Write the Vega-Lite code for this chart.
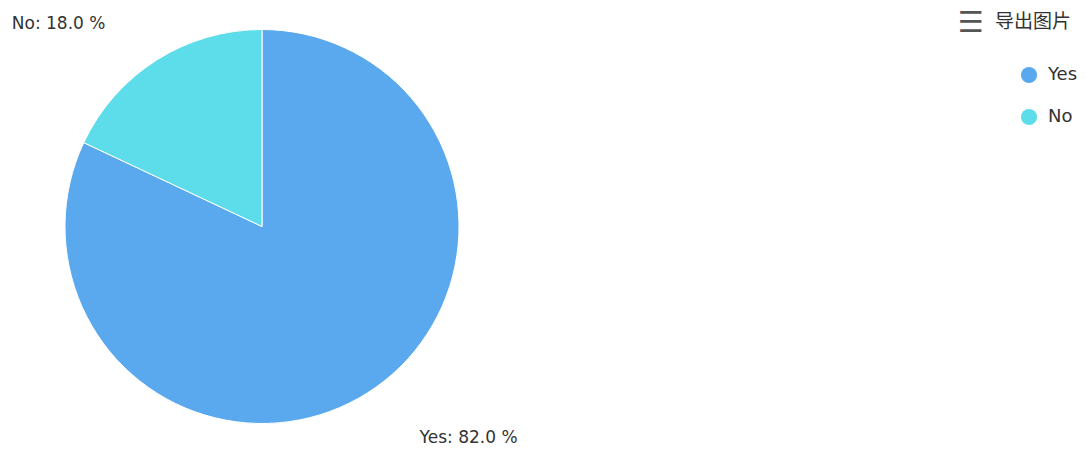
{
  "$schema": "https://vega.github.io/schema/vega-lite/v6.json",
  "width": 524,
  "height": 453,
  "padding": {"left": 0, "top": 0, "bottom": 0, "right": 561},
  "autosize": {"type": "none"},
  "background": "white",
  "view": {"stroke": null},
  "title": {
    "text": "☰",
    "anchor": "end",
    "orient": "top",
    "frame": "group",
    "dx": 460,
    "dy": 42,
    "font": "DejaVu Sans",
    "fontSize": 29,
    "fontWeight": "bold",
    "color": "#555555"
  },
  "data": {
    "values": [
      {"answer": "Yes", "pct": 82, "rank": 1, "label": "Yes: 82.0 %"},
      {"answer": "No", "pct": 18, "rank": 2, "label": "No: 18.0 %"}
    ]
  },
  "encoding": {
    "theta": {"field": "pct", "type": "quantitative", "stack": true},
    "order": {"field": "rank", "type": "quantitative"}
  },
  "layer": [
    {
      "mark": {"type": "arc", "outerRadius": 197, "stroke": "white", "strokeWidth": 1},
      "encoding": {
        "color": {
          "field": "answer",
          "type": "nominal",
          "scale": {"domain": ["Yes", "No"], "range": ["#5aa9ee", "#5ddcea"]},
          "legend": {
            "orient": "none",
            "legendX": 995,
            "legendY": 13,
            "title": "导出图片",
            "titleFont": "Noto Sans CJK SC",
            "titleFontSize": 19,
            "titleFontWeight": "normal",
            "titleColor": "#333333",
            "titlePadding": 34,
            "symbolType": "circle",
            "symbolSize": 260,
            "symbolStrokeWidth": 0,
            "symbolOffset": 25,
            "labelFontSize": 18,
            "labelFont": "DejaVu Sans",
            "labelColor": "#333333",
            "labelOffset": 10,
            "rowPadding": 24
          }
        }
      }
    },
    {
      "mark": {"type": "text", "radius": 225, "align": "right", "baseline": "middle", "dx": -36, "dy": -13, "font": "DejaVu Sans", "fontSize": 17, "fill": "#333333"},
      "encoding": {"text": {"condition": {"test": "datum.answer === 'No'", "field": "label"}, "value": ""}}
    },
    {
      "mark": {"type": "text", "radius": 225, "align": "left", "baseline": "middle", "dx": 37, "dy": 22, "font": "DejaVu Sans", "fontSize": 17, "fill": "#333333"},
      "encoding": {"text": {"condition": {"test": "datum.answer === 'Yes'", "field": "label"}, "value": ""}}
    }
  ]
}
